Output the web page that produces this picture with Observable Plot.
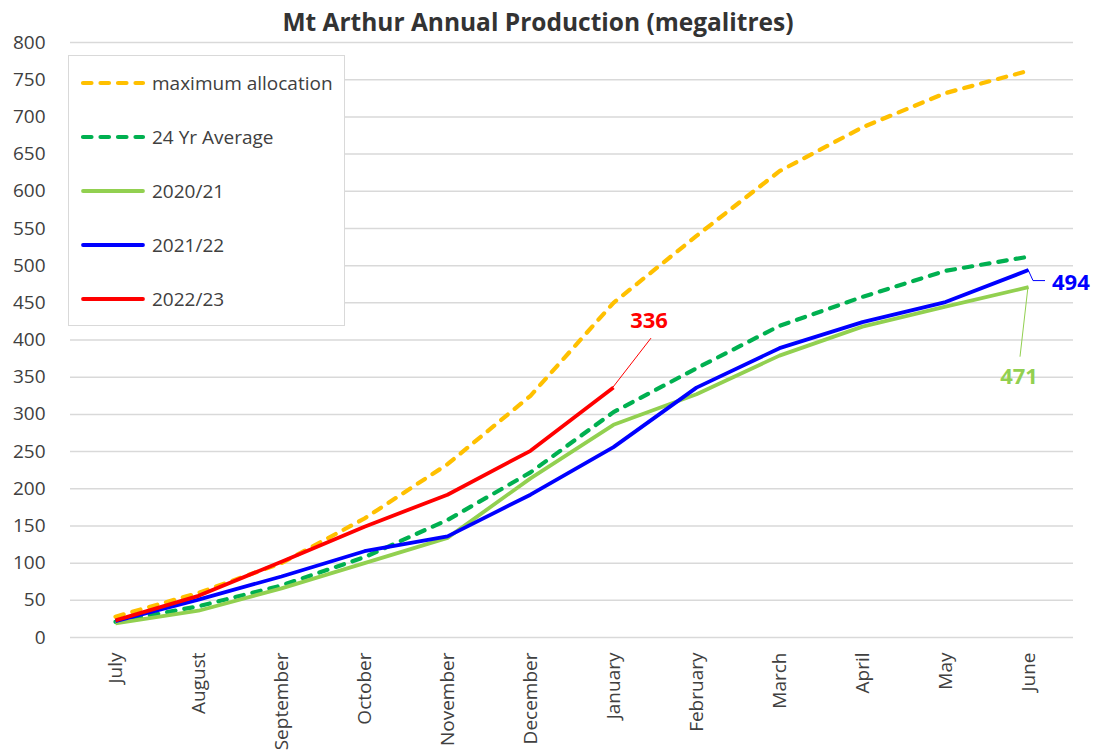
<!DOCTYPE html>
<html>
<head>
<meta charset="utf-8">
<script src="https://cdn.jsdelivr.net/npm/d3@7"></script>
<script src="https://cdn.jsdelivr.net/npm/@observablehq/plot@0.6"></script>
<style>
  html, body { margin: 0; padding: 0; background: #fff; }
  #wrap { position: relative; width: 1101px; height: 753px; font-family: "Open Sans", sans-serif; color: #404040; }
  #title { position: absolute; left: 0; top: 5px; width: 1076px; text-align: center; font-size: 24.5px; font-weight: bold; color: #333; line-height: 34px; }
  #legend { position: absolute; left: 68px; top: 55px; width: 275px; height: 269px; border: 1.5px solid #d9d9d9; background: #fff; }
  .item { height: 54px; display: flex; align-items: center; font-size: 19px; color: #404040; }
  .item svg { margin-left: 11px; margin-right: 6px; }
</style>
</head>
<body>
<div id="wrap">
  <div id="chart"></div>
  <div id="title">Mt Arthur Annual Production (megalitres)</div>
  <div id="legend"></div>
</div>
<script>
const months = ["July","August","September","October","November","December","January","February","March","April","May","June"];
const yTicks = [0,50,100,150,200,250,300,350,400,450,500,550,600,650,700,750,800];

const seriesNames = ["maximum allocation","24 Yr Average","2020/21","2021/22","2022/23"];
const seriesColors = ["#FFC000","#00B050","#92D050","#0000FF","#FF0000"];
const seriesDashed = [true,true,false,false,false];

const maxAllocation = [28,60,100,160,233,325,450,540,627,686,732,762];
const avg24 = [21,42,70,108,158,222,303,362,419,458,493,512];
const y2020_21 = [19,36,66,100,134,214,286,327,379,418,445,471];
const y2021_22 = [22,51,82,116,136,192,256,336,389,424,451,494];
const y2022_23 = [23,56,102,149,192,251,336];

const seriesValues = [maxAllocation, avg24, y2020_21, y2021_22, y2022_23];

// end-of-series callouts
const callouts = [
  {series: "2022/23", month: "January", value: 336, label: "336"},
  {series: "2021/22", month: "June", value: 494, label: "494"},
  {series: "2020/21", month: "June", value: 471, label: "471"}
];

const rows = [];
seriesNames.forEach((s, i) => {
  seriesValues[i].forEach((v, j) => rows.push({series: s, month: months[j], value: v}));
});

const lineMarks = seriesNames.map((s, i) =>
  Plot.line(rows.filter(d => d.series === s), {
    x: "month", y: "value",
    stroke: seriesColors[i],
    strokeWidth: seriesDashed[i] ? 4.2 : 3.8,
    strokeLinecap: seriesDashed[i] ? "round" : "butt",
    strokeLinejoin: "round",
    strokeDasharray: seriesDashed[i] ? "8.5,9" : null
  })
);

const chart = Plot.plot({
  width: 1101,
  height: 753,
  marginTop: 42,
  marginBottom: 116,
  marginLeft: 70,
  marginRight: 28,
  style: {fontFamily: "'Open Sans', sans-serif", fontSize: "19px", color: "#404040", background: "#fff"},
  x: {type: "point", domain: months, padding: 0.5, label: null},
  y: {domain: [0, 800], label: null},
  marks: [
    Plot.gridY(yTicks, {stroke: "#d9d9d9", strokeOpacity: 1, strokeWidth: 1.5}),
    Plot.axisY(yTicks, {tickSize: 0, tickPadding: 25, label: null, fontSize: 19}),
    Plot.axisX({tickSize: 0, tickPadding: 15, tickRotate: -90, label: null, fontSize: 19}),
    ...lineMarks
  ]
});
document.getElementById("chart").appendChild(chart);

// callouts placed via the chart's scales
const sx = chart.scale("x"), sy = chart.scale("y");
const svg = d3.select(chart);
const colorOf = s => seriesColors[seriesNames.indexOf(s)];
const g = svg.append("g");
callouts.forEach(c => {
  const px = sx.apply(c.month), py = sy.apply(c.value);
  const col = colorOf(c.series);
  let path, tx, ty, anchor;
  if (c.series === "2022/23") {
    path = `M${px},${py}L${px + 38},${py - 49}`;
    tx = px + 36; ty = py - 67; anchor = "middle";
  } else if (c.series === "2021/22") {
    path = `M${px},${py}L${px + 5},${py + 11}L${px + 17},${py + 11}`;
    tx = px + 24; ty = py + 13; anchor = "start";
  } else {
    path = `M${px},${py}L${px - 8},${py + 70}`;
    tx = px - 9; ty = py + 90; anchor = "middle";
  }
  g.append("path").attr("d", path).attr("fill", "none").attr("stroke", col).attr("stroke-width", 1);
  g.append("text").attr("x", tx).attr("y", ty).attr("dy", "0.35em")
    .attr("text-anchor", anchor).attr("fill", col)
    .attr("font-size", 22).attr("font-weight", "bold")
    .attr("font-family", "'Open Sans', sans-serif").text(c.label);
});

// legend
const legend = document.getElementById("legend");
seriesNames.forEach((s, i) => {
  const item = document.createElement("div");
  item.className = "item";
  const dash = seriesDashed[i] ? 'stroke-dasharray="8.5,9" stroke-linecap="round" stroke-width="4.2"' : 'stroke-linecap="round" stroke-width="3.8"';
  item.innerHTML = `<svg width="66" height="10"><line x1="3" y1="5" x2="63" y2="5" stroke="${seriesColors[i]}" ${dash}></line></svg><span>${s}</span>`;
  legend.appendChild(item);
});
</script>
</body>
</html>
